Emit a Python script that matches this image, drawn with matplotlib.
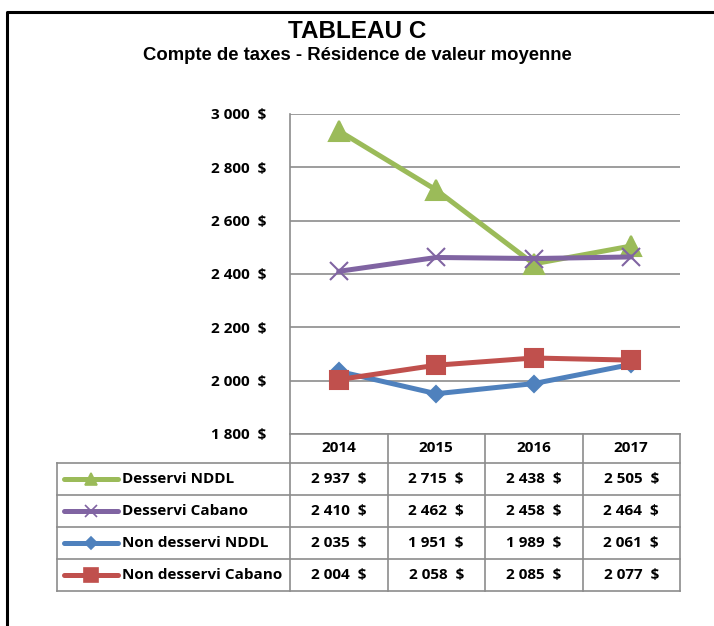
import matplotlib.pyplot as plt
import matplotlib.transforms as mtransforms

annees = ["2014", "2015", "2016", "2017"]
series = ["Desservi NDDL", "Desservi Cabano", "Non desservi NDDL", "Non desservi Cabano"]
desservi_nddl = [2937, 2715, 2438, 2505]
desservi_cabano = [2410, 2462, 2458, 2464]
non_desservi_nddl = [2035, 1951, 1989, 2061]
non_desservi_cabano = [2004, 2058, 2085, 2077]
valeurs = [desservi_nddl, desservi_cabano, non_desservi_nddl, non_desservi_cabano]

couleurs = ["#9BBB59", "#8064A2", "#4F81BD", "#C0504D"]
marqueurs = ["^", "x", "D", "s"]
tailles = [14, 13, 8, 13]
tailles_leg = [9, 9, 6, 10]

police = "Open Sans"
taille_txt = 11
gris = "#8c8c8c"


def montant(v):
    return f"{v:,}".replace(",", " ") + "  $"


W, H = 714, 626
fig = plt.figure(figsize=(W / 100, H / 100), dpi=100)

# axe "pixels" pour le cadre et le tableau
fond = fig.add_axes([0, 0, 1, 1], zorder=0)
fond.set_xlim(0, W)
fond.set_ylim(H, 0)
fond.axis("off")

# cadre noir
fond.plot([7, 7, W], [H, 11.5, 11.5], color="black", lw=2.2, solid_capstyle="butt")

fond.text(357, 31, "TABLEAU C", ha="center", va="center", fontsize=17.5,
          fontweight="bold", family="Liberation Sans")
fond.text(357, 55, "Compte de taxes - Résidence de valeur moyenne", ha="center",
          va="center", fontsize=13.3, fontweight="bold", family="Liberation Sans")

# graphique
x0, x1, yb, yt = 290, 680, 434, 114
ax = fig.add_axes([x0 / W, 1 - yb / H, (x1 - x0) / W, (yb - yt) / H], zorder=2)
ax.patch.set_alpha(0)
x = list(range(len(annees)))
for i in range(len(series)):
    ax.plot(x, valeurs[i], color=couleurs[i], lw=3.6, marker=marqueurs[i],
            markersize=tailles[i], markeredgewidth=1.5, markeredgecolor=couleurs[i],
            solid_capstyle="round", zorder=3 + i)
ax.set_xlim(-0.5, len(annees) - 0.5)
ax.set_ylim(1800, 3000)
ticks = list(range(1800, 3001, 200))
ax.set_yticks(ticks)
ax.set_yticklabels([montant(t) for t in ticks], fontsize=taille_txt, fontweight="bold",
                   family=police)
ax.tick_params(axis="y", length=0, pad=17)
ax.set_xticks([])
ax.grid(axis="y", color=gris, lw=1.2)
for s in ["top", "right", "bottom"]:
    ax.spines[s].set_visible(False)
ax.spines["left"].set_color(gris)
ax.spines["left"].set_linewidth(1.2)

# tableau de données
trans = mtransforms.blended_transform_factory(ax.transData, fond.transData)
haut = 434
h_entete = 29
h_ligne = 32
gauche = 57
bas = haut + h_entete + h_ligne * len(series)
bords = [k - 0.5 for k in range(len(annees) + 1)]

for b in bords:
    fond.plot([b, b], [haut, bas], color=gris, lw=1.2, transform=trans)
fond.plot([-0.5, len(annees) - 0.5], [haut, haut], color=gris, lw=1.2, transform=trans)
for r in range(len(series) + 1):
    y = haut + h_entete + r * h_ligne
    fond.plot([gauche, x1], [y, y], color=gris, lw=1.2)
fond.plot([gauche, gauche], [haut + h_entete, bas], color=gris, lw=1.2)

for j, a in enumerate(annees):
    fond.text(j, haut + h_entete / 2, a, ha="center", va="center", fontsize=taille_txt,
              fontweight="bold", family=police, transform=trans)

for i, nom in enumerate(series):
    yc = haut + h_entete + h_ligne * (i + 0.5)
    fond.plot([64, 118], [yc, yc], color=couleurs[i], lw=3.6, solid_capstyle="round")
    fond.plot([91], [yc], color=couleurs[i], marker=marqueurs[i], markersize=tailles_leg[i],
              markeredgewidth=1.2, markeredgecolor=couleurs[i])
    fond.text(122, yc, nom, ha="left", va="center", fontsize=taille_txt,
              fontweight="bold", family=police)
    for j, v in enumerate(valeurs[i]):
        fond.text(j, yc, montant(v), ha="center", va="center", fontsize=taille_txt,
                  fontweight="bold", family=police, transform=trans)

fig.savefig("out.png", dpi=100)
